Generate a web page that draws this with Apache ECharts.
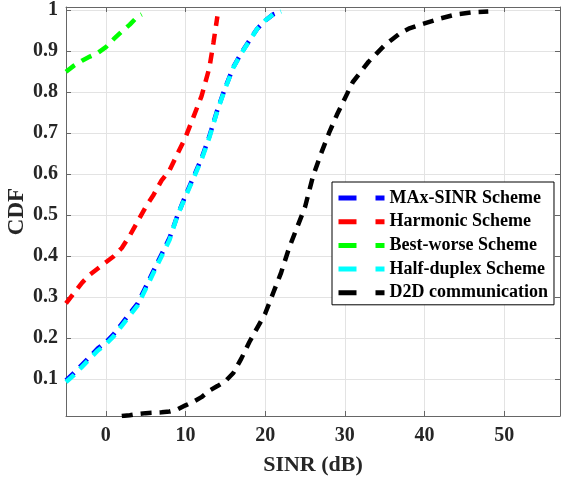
<!DOCTYPE html>
<html>
<head>
<meta charset="utf-8">
<script src="https://cdn.jsdelivr.net/npm/echarts@6/dist/echarts.min.js"></script>
<style>html,body{margin:0;padding:0;background:#fff}#c{width:561px;height:481px}</style>
</head>
<body>
<div id="c"></div>
<script>
const xTicks = [0, 10, 20, 30, 40, 50];
const yTicks = [0.1, 0.2, 0.3, 0.4, 0.5, 0.6, 0.7, 0.8, 0.9, 1];
const seriesNames = ['MAx-SINR Scheme', 'Harmonic Scheme', 'Best-worse Scheme', 'Half-duplex Scheme', 'D2D communication'];
const seriesColors = ['#0000ff', '#ff0000', '#00ff00', '#00ffff', '#000000'];

const maxSinr = [[-5,0.097],[-4,0.115],[-3,0.135],[-2,0.155],[-1,0.175],[0,0.19],[1,0.21],[2,0.235],[3,0.26],[4,0.285],[5,0.325],[6,0.365],[7,0.405],[8,0.445],[9,0.5],[10,0.548],[11,0.593],[12,0.638],[13,0.693],[14,0.757],[15,0.812],[16,0.861],[17,0.896],[18,0.926],[19,0.955],[20,0.975],[21,0.99],[22,0.997]];
const harmonic = [[-5,0.285],[-4,0.31],[-3,0.335],[-2,0.355],[-1,0.37],[0,0.385],[1,0.4],[2,0.42],[3,0.45],[4,0.485],[5,0.52],[6,0.55],[7,0.585],[8,0.61],[9,0.65],[10,0.69],[11,0.74],[12,0.79],[13,0.86],[13.5,0.92],[14,0.985]];
const bestWorse = [[-5,0.85],[-4,0.865],[-3,0.877],[-2,0.887],[-1,0.896],[0,0.91],[1,0.93],[2,0.948],[3,0.965],[4,0.985],[4.5,0.99]];
const halfDuplex = [[-5,0.093],[-4,0.11],[-3,0.13],[-2,0.15],[-1,0.17],[0,0.185],[1,0.205],[2,0.23],[3,0.255],[4,0.28],[5,0.32],[6,0.36],[7,0.4],[8,0.44],[9,0.5],[10,0.545],[11,0.59],[12,0.635],[13,0.69],[14,0.755],[15,0.81],[16,0.86],[17,0.895],[18,0.925],[19,0.955],[20,0.975],[21,0.99],[22,0.997]];
const d2d = [[2,0.01],[3,0.012],[4,0.015],[5,0.017],[6,0.018],[7,0.019],[8,0.021],[9,0.026],[10,0.036],[11,0.045],[12,0.056],[13,0.072],[14,0.083],[15,0.095],[16,0.115],[17,0.15],[18,0.19],[19,0.225],[20,0.26],[21,0.31],[22,0.36],[23,0.42],[24,0.47],[25,0.52],[26,0.595],[27,0.65],[28,0.7],[29,0.745],[30,0.785],[31,0.825],[32,0.85],[33,0.875],[34,0.895],[35,0.915],[36,0.93],[37,0.945],[38,0.955],[39,0.962],[40,0.968],[42,0.98],[44,0.99],[46,0.995],[48,0.997]];
const allData = [maxSinr, harmonic, bestWorse, halfDuplex, d2d];

const font = 'Liberation Serif, Times New Roman, serif';
const axisColor = '#666';
const gridColor = '#e3e3e3';
const X_MIN = -5, X_MAX = 57, Y_MIN = 0.01, Y_MAX = 1.008;

const chart = echarts.init(document.getElementById('c'), null, {renderer: 'canvas'});

function xAx(pos, showLabel) {
  return {
    type: 'value', position: pos, min: X_MIN, max: X_MAX,
    name: showLabel ? 'SINR (dB)' : '', nameLocation: 'middle', nameGap: 38, nameMoveOverlap: false,
    nameTextStyle: {fontFamily: font, fontWeight: 'bold', fontSize: 22, color: '#262626'},
    axisLine: {show: true, onZero: false, lineStyle: {color: axisColor, width: 1}},
    axisTick: {show: true, inside: true, length: 5, customValues: xTicks, lineStyle: {color: axisColor}},
    axisLabel: {show: showLabel, customValues: xTicks, margin: 10, fontFamily: font, fontWeight: 'bold', fontSize: 20, color: '#262626'},
    splitLine: {show: showLabel, lineStyle: {color: gridColor, width: 1}}
  };
}
function yAx(pos, showLabel) {
  return {
    type: 'value', position: pos, min: Y_MIN, max: Y_MAX,
    name: showLabel ? 'CDF' : '', nameLocation: 'middle', nameGap: 37, nameMoveOverlap: false,
    nameTextStyle: {fontFamily: font, fontWeight: 'bold', fontSize: 23, color: '#262626'},
    axisLine: {show: true, onZero: false, lineStyle: {color: axisColor, width: 1}},
    axisTick: {show: true, inside: true, length: 5, customValues: yTicks, lineStyle: {color: axisColor}},
    axisLabel: {show: showLabel, customValues: yTicks, margin: 8, fontFamily: font, fontWeight: 'bold', fontSize: 20, color: '#262626',
      formatter: v => (Math.round(v * 10) / 10).toString()},
    splitLine: {show: showLabel, lineStyle: {color: gridColor, width: 1}}
  };
}

const series = seriesNames.map((n, i) => ({
  name: n, type: 'line', data: allData[i], xAxisIndex: 0, yAxisIndex: 0,
  symbol: 'none', smooth: false, z: 2 + i,
  lineStyle: {color: seriesColors[i], width: 4.5, type: [11, 8], cap: 'butt'},
  itemStyle: {color: seriesColors[i]}
}));

chart.setOption({
  animation: false,
  backgroundColor: '#fff',
  grid: {left: 66, right: 1, top: 7, bottom: 65, containLabel: false, outerBoundsMode: 'none'},
  xAxis: [xAx('bottom', true), xAx('top', false)],
  yAxis: [yAx('left', true), yAx('right', false)],
  legend: {
    orient: 'vertical', left: 332, top: 182,
    padding: [7, 6, 3, 4],
    itemWidth: 46, itemHeight: 14, itemGap: 5.7,
    borderColor: '#000', borderWidth: 1, backgroundColor: '#fff',
    itemStyle: {opacity: 0},
    lineStyle: {width: 5, type: [18, 19, 9, 200], cap: 'butt'},
    textStyle: {fontFamily: font, fontWeight: 'bold', fontSize: 18, color: '#000'},
    data: seriesNames
  },
  series: series
});
</script>
</body>
</html>
